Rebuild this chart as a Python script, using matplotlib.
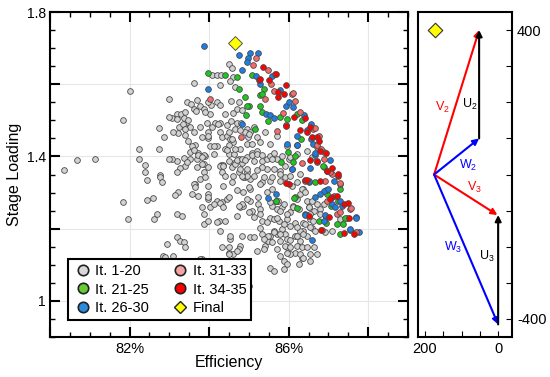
import matplotlib
matplotlib.use('Agg')
import matplotlib.pyplot as plt
from matplotlib.lines import Line2D
from matplotlib.ticker import MultipleLocator, FixedLocator, FixedFormatter

plt.rcParams['font.family'] = ['Liberation Sans', 'DejaVu Sans']
plt.rcParams['mathtext.fontset'] = 'custom'
plt.rcParams['mathtext.rm'] = 'Liberation Sans'
plt.rcParams['mathtext.it'] = 'Liberation Sans'

# (efficiency %, stage loading)
it_1_20 = [
    (84.51, 1.655), (84.57, 1.645), (84.08, 1.626), (84.19, 1.626), (84.29, 1.626), (84.61, 1.621),
    (84.53, 1.608), (83.61, 1.604), (83.69, 1.556), (83.44, 1.550), (83.55, 1.545), (83.76, 1.541),
    (83.86, 1.531), (83.61, 1.531), (83.66, 1.526), (84.04, 1.543), (84.03, 1.518), (84.55, 1.555),
    (84.61, 1.520), (84.40, 1.517), (83.19, 1.518), (83.29, 1.518), (83.40, 1.522), (83.06, 1.508),
    (83.19, 1.504), (83.36, 1.506), (83.42, 1.494), (83.36, 1.485), (83.25, 1.481), (83.52, 1.482),
    (83.76, 1.482), (83.94, 1.494), (84.15, 1.494), (84.28, 1.494), (84.45, 1.488), (84.55, 1.497),
    (84.70, 1.492), (84.80, 1.494), (84.95, 1.476), (85.12, 1.481), (85.03, 1.467), (84.91, 1.469),
    (84.65, 1.476), (84.28, 1.469), (84.07, 1.481), (83.96, 1.469), (83.82, 1.453), (83.61, 1.467),
    (83.40, 1.459), (83.23, 1.465), (83.10, 1.467), (83.48, 1.444), (83.65, 1.431), (83.52, 1.413),
    (83.73, 1.411), (83.98, 1.450), (84.03, 1.430), (84.19, 1.430), (84.32, 1.453), (84.45, 1.457),
    (84.53, 1.448), (84.61, 1.439), (84.51, 1.431), (84.40, 1.420), (84.49, 1.406), (84.63, 1.406),
    (84.78, 1.420), (84.95, 1.434), (85.07, 1.434), (84.97, 1.453), (85.20, 1.453), (85.28, 1.439),
    (85.41, 1.467), (85.20, 1.416), (85.07, 1.411), (84.74, 1.393), (84.82, 1.381), (84.63, 1.383),
    (84.51, 1.388), (84.29, 1.376), (84.36, 1.376), (84.11, 1.406), (83.90, 1.402), (83.69, 1.393),
    (83.52, 1.393), (83.36, 1.397), (83.19, 1.388), (83.06, 1.393), (83.40, 1.374), (83.27, 1.369),
    (83.69, 1.372), (83.86, 1.379), (85.12, 1.388), (85.33, 1.388), (85.45, 1.393), (85.54, 1.402),
    (85.62, 1.411), (85.70, 1.393), (85.83, 1.402), (85.91, 1.374), (85.79, 1.360), (85.62, 1.365),
    (85.45, 1.365), (85.33, 1.372), (85.20, 1.363), (84.95, 1.357), (84.74, 1.356), (84.32, 1.357),
    (83.86, 1.356), (83.19, 1.356), (85.54, 1.434), (85.70, 1.457), (85.95, 1.430), (86.00, 1.393),
    (82.01, 1.581), (81.84, 1.502), (82.99, 1.559), (82.99, 1.509), (82.75, 1.478), (82.86, 1.454),
    (82.23, 1.422), (82.73, 1.420), (80.68, 1.391), (81.12, 1.393), (82.24, 1.392), (82.39, 1.376),
    (80.34, 1.363), (82.38, 1.356), (82.77, 1.348), (82.99, 1.393),
    (83.65, 1.324), (83.77, 1.338), (83.90, 1.342), (84.91, 1.342), (85.03, 1.338), (85.33, 1.328),
    (85.54, 1.333), (85.79, 1.333), (85.91, 1.342), (83.23, 1.301), (83.15, 1.293), (83.57, 1.296),
    (83.73, 1.291), (83.98, 1.319), (83.98, 1.282), (84.19, 1.278), (84.32, 1.273), (84.45, 1.282),
    (84.49, 1.287), (84.03, 1.259), (84.78, 1.259), (84.86, 1.264), (85.03, 1.310), (85.24, 1.268),
    (85.28, 1.254), (85.07, 1.250), (85.58, 1.264), (85.70, 1.254), (85.83, 1.259), (83.19, 1.241),
    (83.31, 1.234), (83.86, 1.241), (84.24, 1.222), (84.40, 1.222), (84.70, 1.236), (84.99, 1.245),
    (85.54, 1.231), (85.62, 1.227), (85.75, 1.222), (85.95, 1.227), (83.86, 1.213), (84.28, 1.194),
    (84.82, 1.180), (85.03, 1.176), (85.28, 1.203), (85.33, 1.185), (85.45, 1.171), (85.54, 1.180),
    (85.70, 1.185), (85.83, 1.199), (85.91, 1.185), (85.95, 1.171), (83.19, 1.176), (83.27, 1.166),
    (83.36, 1.162), (83.40, 1.148), (84.32, 1.148), (84.53, 1.171), (84.78, 1.153), (84.74, 1.143),
    (84.49, 1.134), (84.61, 1.129), (85.41, 1.153), (85.70, 1.143), (85.95, 1.148), (85.79, 1.125),
    (85.87, 1.111), (85.95, 1.102), (85.54, 1.090), (85.62, 1.083), (85.87, 1.088), (83.10, 1.125),
    (83.82, 1.117), (84.99, 1.041), (82.84, 1.125), (83.77, 1.117),
    (82.43, 1.336), (82.77, 1.344), (82.81, 1.330), (81.83, 1.273), (82.43, 1.279), (82.60, 1.285),
    (81.97, 1.227), (82.62, 1.227), (82.70, 1.242), (82.94, 1.157), (82.88, 1.123),
    (86.08, 1.319), (86.37, 1.310), (86.42, 1.333), (86.29, 1.296), (86.21, 1.282), (86.12, 1.264),
    (86.25, 1.254), (86.04, 1.245), (86.46, 1.278), (86.50, 1.259), (86.63, 1.250), (86.79, 1.254),
    (86.88, 1.268), (86.54, 1.241), (86.54, 1.227), (86.37, 1.217), (86.16, 1.217), (86.58, 1.203),
    (86.37, 1.194), (86.46, 1.180), (86.29, 1.166), (86.21, 1.153), (86.33, 1.148), (86.16, 1.134),
    (86.04, 1.129), (86.33, 1.120), (86.54, 1.129), (86.25, 1.102), (86.92, 1.191), (87.09, 1.194),
    (87.30, 1.227),
    (86.46, 1.416), (86.58, 1.398), (86.21, 1.407), (86.04, 1.398), (86.08, 1.365), (86.29, 1.352),
    (86.04, 1.347), (86.21, 1.328), (86.33, 1.310), (86.42, 1.301), (86.58, 1.277), (86.50, 1.259),
    (86.71, 1.268), (86.79, 1.240), (86.62, 1.222), (86.42, 1.213), (86.29, 1.194), (86.16, 1.180),
    (86.04, 1.168), (85.79, 1.185), (85.87, 1.213), (85.95, 1.240), (86.12, 1.259), (85.79, 1.250),
    (85.70, 1.231), (85.62, 1.194), (85.49, 1.166),
    (83.86, 1.403), (83.82, 1.380), (84.28, 1.375), (84.36, 1.375), (84.57, 1.370), (84.65, 1.380),
    (84.70, 1.389), (84.82, 1.394), (84.95, 1.398), (85.07, 1.403), (85.20, 1.407), (85.33, 1.403),
    (85.58, 1.394), (84.40, 1.347), (84.61, 1.347), (84.86, 1.343), (84.95, 1.347), (85.12, 1.347),
    (85.37, 1.343), (85.58, 1.343), (85.79, 1.352), (83.98, 1.296), (84.28, 1.270), (84.82, 1.269),
    (85.03, 1.278), (85.24, 1.287), (85.28, 1.324), (84.99, 1.315), (85.45, 1.301), (85.58, 1.310),
    (85.54, 1.273), (85.74, 1.278), (85.87, 1.269), (83.82, 1.259), (84.74, 1.264), (85.12, 1.232),
    (85.28, 1.241), (85.33, 1.222), (85.45, 1.218), (86.04, 1.208), (86.21, 1.204), (83.98, 1.222),
    (84.19, 1.218), (84.53, 1.181), (85.12, 1.176), (85.49, 1.181), (85.62, 1.190), (86.21, 1.181),
    (86.37, 1.185), (86.54, 1.204), (86.67, 1.194), (85.37, 1.171), (85.58, 1.162), (85.79, 1.167),
    (85.91, 1.153), (86.04, 1.148), (86.29, 1.130), (86.46, 1.148), (86.63, 1.148), (86.71, 1.130),
    (84.49, 1.148), (84.70, 1.139), (84.49, 1.130), (85.20, 1.139), (85.37, 1.143), (85.95, 1.134),
    (86.37, 1.120), (86.54, 1.111),
    (84.28, 1.597), (84.65, 1.593), (83.90, 1.523), (83.98, 1.551), (84.19, 1.551), (84.28, 1.542),
    (84.74, 1.551), (84.70, 1.532), (84.82, 1.528), (83.48, 1.502), (83.35, 1.491), (83.40, 1.477),
    (83.98, 1.458), (84.23, 1.491), (84.49, 1.468), (84.57, 1.449), (84.65, 1.421), (84.78, 1.472),
    (84.99, 1.463), (83.56, 1.428), (83.61, 1.417), (83.73, 1.403), (83.82, 1.398), (84.11, 1.428),
    (84.45, 1.417), (83.44, 1.384), (83.98, 1.370), (84.91, 1.389), (84.78, 1.366), (84.95, 1.366),
    (84.82, 1.347), (83.61, 1.324), (83.65, 1.315), (84.36, 1.319), (84.57, 1.329), (84.70, 1.306),
    (84.86, 1.301), (83.98, 1.287), (84.11, 1.268), (84.36, 1.259), (84.95, 1.282),
]
it_21_25 = [
    (83.96, 1.631), (84.41, 1.626), (84.70, 1.619), (85.07, 1.625), (85.37, 1.588), (85.28, 1.569),
    (84.74, 1.586), (84.91, 1.565), (85.00, 1.541), (84.93, 1.516), (85.28, 1.541), (85.33, 1.523),
    (85.48, 1.498), (85.16, 1.477), (85.79, 1.509), (85.95, 1.504), (86.33, 1.500), (85.98, 1.412),
    (86.12, 1.384), (86.16, 1.287), (85.68, 1.277), (85.81, 1.386), (86.50, 1.328), (86.88, 1.370),
    (86.96, 1.296), (86.75, 1.220), (87.21, 1.213), (87.28, 1.185), (87.46, 1.231), (86.21, 1.518),
    (86.31, 1.448), (86.16, 1.402), (86.86, 1.374), (86.14, 1.284), (86.21, 1.256), (86.94, 1.217),
    (87.36, 1.213), (87.42, 1.231), (87.25, 1.278), (87.30, 1.310), (86.67, 1.328), (87.06, 1.264),
    (85.69, 1.278), (84.96, 1.541), (85.32, 1.573),
]
it_26_30 = [
    (83.88, 1.706), (84.76, 1.682), (85.03, 1.687), (85.22, 1.688), (84.97, 1.674), (84.95, 1.662),
    (84.82, 1.639), (83.96, 1.586), (84.82, 1.490), (85.18, 1.622), (85.28, 1.602), (85.59, 1.622),
    (85.79, 1.583), (85.43, 1.518), (85.53, 1.514), (85.62, 1.507), (85.94, 1.539), (86.00, 1.551),
    (85.95, 1.435), (86.20, 1.433), (86.39, 1.514), (86.46, 1.472), (86.57, 1.449), (86.62, 1.435),
    (86.67, 1.405), (86.20, 1.458), (87.04, 1.389), (87.13, 1.333), (85.68, 1.296), (85.48, 1.285),
    (86.41, 1.240), (86.67, 1.287), (86.94, 1.307), (87.09, 1.268), (87.30, 1.277), (87.55, 1.196),
    (87.69, 1.233), (86.93, 1.233), (86.58, 1.170), (86.12, 1.536), (86.56, 1.490), (86.22, 1.431),
    (86.67, 1.411), (86.08, 1.365), (86.54, 1.369), (86.42, 1.238), (86.90, 1.222), (86.92, 1.238),
    (87.53, 1.199), (87.77, 1.190), (87.70, 1.231), (87.17, 1.259), (87.35, 1.262), (86.88, 1.305),
    (86.79, 1.296), (86.52, 1.333), (86.98, 1.310),
]
it_31_33 = [
    (85.17, 1.674), (85.11, 1.654), (85.49, 1.639), (85.66, 1.629), (85.63, 1.581), (86.08, 1.574),
    (84.02, 1.560), (84.80, 1.455), (85.94, 1.486), (86.62, 1.477), (86.71, 1.426), (86.88, 1.412),
    (86.71, 1.384), (87.09, 1.352), (87.30, 1.324), (86.96, 1.277), (87.55, 1.254), (87.21, 1.240),
    (86.83, 1.196), (86.10, 1.575), (86.16, 1.555), (86.29, 1.524), (86.67, 1.478), (86.75, 1.457),
    (86.71, 1.431), (86.81, 1.422), (86.88, 1.393), (86.33, 1.383), (87.03, 1.356), (87.30, 1.245),
    (87.56, 1.257), (87.70, 1.191), (86.92, 1.333), (87.30, 1.327), (87.13, 1.291), (85.40, 1.560),
    (85.55, 1.600), (85.85, 1.520), (85.70, 1.470),
]
it_34_35 = [
    (85.35, 1.648), (85.26, 1.613), (85.50, 1.611), (85.94, 1.599), (85.74, 1.564), (86.14, 1.509),
    (86.29, 1.472), (86.54, 1.481), (86.71, 1.455), (86.79, 1.416), (86.54, 1.389), (86.00, 1.324),
    (86.96, 1.361), (87.25, 1.347), (86.41, 1.335), (87.09, 1.287), (87.38, 1.268), (87.02, 1.233),
    (87.38, 1.187), (87.63, 1.185), (86.42, 1.506), (86.46, 1.469), (86.58, 1.453), (86.75, 1.443),
    (86.94, 1.411), (86.71, 1.388), (87.09, 1.369), (86.96, 1.360), (87.25, 1.351), (86.82, 1.197),
    (87.51, 1.231), (87.50, 1.271), (87.21, 1.291), (87.04, 1.282), (86.78, 1.333), (86.46, 1.336),
    (86.52, 1.234), (85.94, 1.327), (85.27, 1.615), (85.67, 1.629), (85.72, 1.580), (85.87, 1.573),
    (85.93, 1.485),
]
final = (84.66, 1.714)

labels = ['It. 1-20', 'It. 21-25', 'It. 26-30', 'It. 31-33', 'It. 34-35']
series = [it_1_20, it_21_25, it_26_30, it_31_33, it_34_35]
point_colors = ['#d2d2d2', '#1ec81e', '#1c7ee6', '#f56a6a', '#ff0000']
legend_colors = ['#d9d9d9', '#66cc33', '#2a8ae0', '#f4a3a3', '#ff0000']

# velocity triangle: tips in (Vtheta, Vx) units
vel_origin = (175, 0)
V2_tip, W2_tip = (52, 400), (52, 100)
V3_tip, W3_tip = (2, -112), (0, -415)
U2 = ((52, 100), (52, 400))
U3 = ((0, -415), (0, -112))

fig = plt.figure(figsize=(5.5, 3.77), dpi=100)
ax = fig.add_axes([0.0909, 0.106, 0.651, 0.862])
ax2 = fig.add_axes([0.760, 0.106, 0.171, 0.862])

for pts, col in zip(series, point_colors):
    xs, ys = zip(*pts)
    ax.scatter(xs, ys, s=17, c=col, edgecolors='#4a4a4a', linewidths=0.6, zorder=3)
ax.scatter([final[0]], [final[1]], s=50, marker='D', c='#ffff00', edgecolors='#555555',
           linewidths=0.7, zorder=4)

ax.set_xlim(80, 89)
ax.set_ylim(0.9, 1.8)
ax.xaxis.set_major_locator(FixedLocator([80, 82, 84, 86, 88]))
ax.xaxis.set_major_formatter(FixedFormatter(['', '82%', '', '86%', '']))
ax.xaxis.set_minor_locator(MultipleLocator(0.5))
ax.yaxis.set_major_locator(FixedLocator([1.0, 1.2, 1.4, 1.6, 1.8]))
ax.yaxis.set_major_formatter(FixedFormatter(['1', '', '1.4', '', '1.8']))
ax.yaxis.set_minor_locator(MultipleLocator(0.05))
ax.grid(True, which='major', color='#e6e6e6', lw=0.8, zorder=0)
ax.tick_params(which='both', direction='in', top=True, right=True, labelsize=10.5, width=1)
ax.tick_params(which='major', length=7, width=1.5)
ax.tick_params(which='minor', length=3.5)
ax.tick_params(axis='y', pad=3, labelsize=10)
for sp in ax.spines.values():
    sp.set_linewidth(1.5)
ax.set_xlabel('Efficiency', fontsize=11.5, labelpad=-1)
ax.set_ylabel('Stage Loading', fontsize=11.5)
ax.yaxis.set_label_coords(-0.078, 0.5)

handles = [Line2D([], [], ls='none', marker='o', ms=7.5, mfc=c, mec='#222222', mew=1.2)
           for c in legend_colors]
handles.append(Line2D([], [], ls='none', marker='D', ms=6.5, mfc='#ffff00', mec='#222222', mew=1.0))
leg = ax.legend(handles, labels + ['Final'],
                loc='lower left', ncol=2, fontsize=10.5, frameon=True, fancybox=False,
                edgecolor='black', framealpha=1, borderpad=0.35, handletextpad=0.2,
                columnspacing=1.5, labelspacing=0.3, handlelength=1.3,
                bbox_to_anchor=(0.03, 0.03))
leg.get_frame().set_linewidth(1.5)
leg.set_zorder(5)

# velocity triangle panel
def vec(a, b, col):
    ax2.annotate('', xy=b, xytext=a,
                 arrowprops=dict(arrowstyle='-|>', color=col, lw=1.5, mutation_scale=9,
                                 shrinkA=0, shrinkB=0))

vec(vel_origin, V2_tip, 'red')
vec(vel_origin, W2_tip, 'blue')
vec(*U2, 'black')
vec(vel_origin, V3_tip, 'red')
vec(vel_origin, W3_tip, 'blue')
vec(*U3, 'black')
ax2.scatter([172], [400], s=55, marker='D', c='#ffff00', edgecolors='#333333', linewidths=0.8)

ax2.text(151, 185, 'V$_2$', color='red', fontsize=9, ha='center', va='center')
ax2.text(77, 193, 'U$_2$', color='black', fontsize=9, ha='center', va='center')
ax2.text(82, 25, 'W$_2$', color='blue', fontsize=9, ha='center', va='center')
ax2.text(66, -36, 'V$_3$', color='red', fontsize=9, ha='center', va='center')
ax2.text(123, -202, 'W$_3$', color='blue', fontsize=9, ha='center', va='center')
ax2.text(30, -227, 'U$_3$', color='black', fontsize=9, ha='center', va='center')

ax2.set_xlim(219, -38)
ax2.set_ylim(-450, 450)
ax2.xaxis.set_major_locator(FixedLocator([200, 150, 100, 50, 0]))
ax2.xaxis.set_major_formatter(FixedFormatter(['200', '', '', '', '0']))
ax2.yaxis.set_major_locator(MultipleLocator(100))
ax2.yaxis.tick_right()
ax2.yaxis.set_major_formatter(plt.FuncFormatter(lambda v, p: f'{int(v)}' if abs(v) == 400 else ''))
ax2.tick_params(axis='y', which='both', direction='in', left=False, right=True, length=4,
                labelsize=10.5)
ax2.tick_params(axis='x', direction='in', length=4, labelsize=10.5)
for sp in ax2.spines.values():
    sp.set_linewidth(1.5)

fig.savefig('out.png', dpi=100)
